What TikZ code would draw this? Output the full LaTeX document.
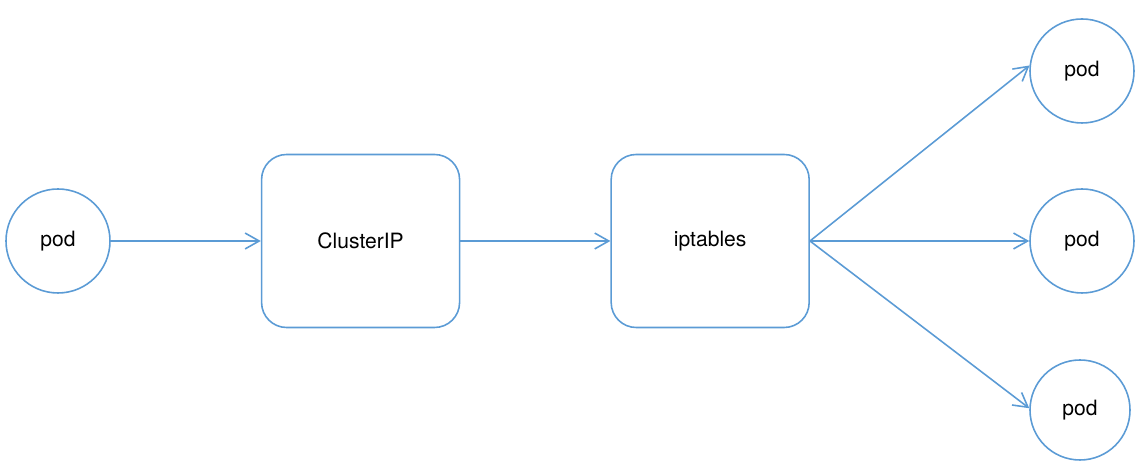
\documentclass[tikz,border=0pt]{standalone}
\usepackage{fontspec}
\setmainfont{TeX Gyre Heros}
\usetikzlibrary{arrows.meta,positioning}
\definecolor{lineblue}{HTML}{5B9BD5}
\tikzset{
  podnode/.style={draw=lineblue,circle,line width=0.9pt,minimum size=2.08cm,inner sep=0pt,font=\fontsize{12}{14}\selectfont},
  svcblk/.style={draw=lineblue,rectangle,rounded corners=0.5cm,line width=0.9pt,minimum width=3.96cm,minimum height=3.46cm,font=\fontsize{12}{14}\selectfont},
  arr/.style={-{Straight Barb[length=8pt,width=9pt]},lineblue,line width=0.9pt}
}
\begin{document}
\begin{tikzpicture}
  \useasboundingbox (0,0) rectangle (22.92,9.36);
  \node[podnode] (src) at (1.16,4.54) {pod};
  \node[svcblk, right=3.0cm of src] (cip) {ClusterIP};
  \node[svcblk, right=3.0cm of cip] (ipt) {iptables};
  \node[podnode] (dst1) at (21.64,7.94) {pod};
  \node[podnode] (dst2) at (21.64,4.54) {pod};
  \node[podnode,minimum size=2.0cm] (dst3) at (21.60,1.16) {pod};

  \draw[arr] (src) -- (cip);
  \draw[arr] (cip) -- (ipt);
  \draw[arr] (ipt.east) -- (dst1.174);
  \draw[arr] (ipt.east) -- (dst2.west);
  \draw[arr] (ipt.east) -- (dst3.178);
\end{tikzpicture}
\end{document}
